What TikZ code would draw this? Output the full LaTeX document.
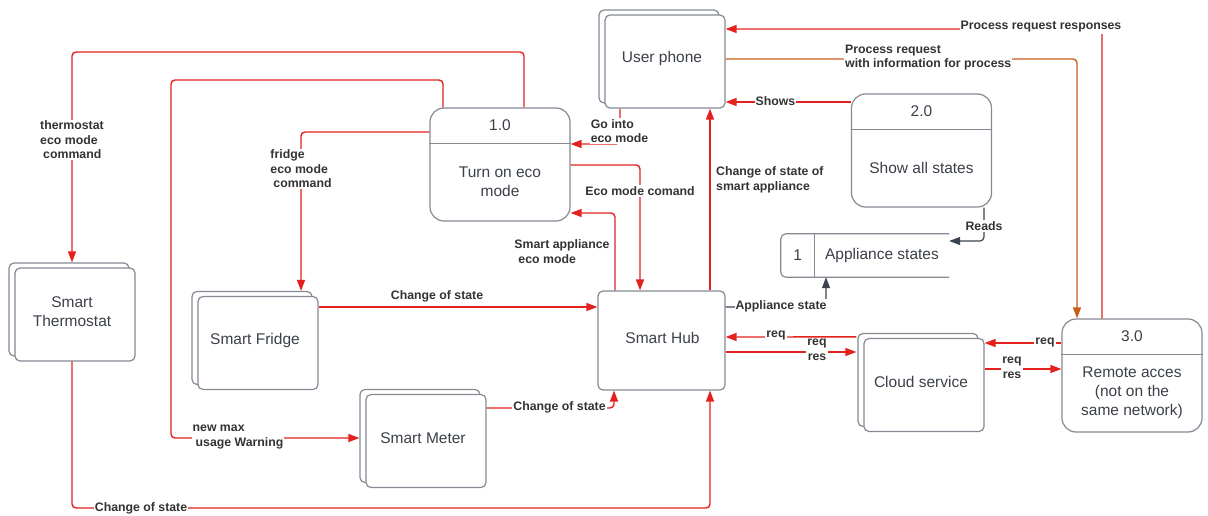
\documentclass[tikz,border=0pt]{standalone}
\usepackage{fontspec}
\setmainfont{Liberation Sans}
\usetikzlibrary{arrows.meta}

\definecolor{boxline}{HTML}{858A93}
\definecolor{nodetext}{HTML}{3B4049}
\definecolor{lbltext}{HTML}{333333}
\definecolor{flowred}{HTML}{E3211F}
\definecolor{floworange}{HTML}{C95F1A}
\definecolor{flowdark}{HTML}{3C4350}

\newcommand\nodefont{\fontsize{15.5}{19}\selectfont}
\newcommand\lblfont{\fontsize{12.3}{14.6}\selectfont\bfseries}

\tikzset{
  box/.style={draw=boxline, line width=1.2pt, fill=white, rounded corners=5pt,
    minimum width=120pt, minimum height=93pt, inner sep=0pt},
  proc/.style={draw=boxline, line width=1.2pt, fill=white, rounded corners=14pt,
    minimum width=140pt, minimum height=113pt, inner sep=0pt},
  divider/.style={draw=boxline, line width=1.2pt},
  ntext/.style={text=nodetext, font=\nodefont, align=center, inner sep=0pt},
  flow/.style={draw=flowred, line width=1.4pt, rounded corners=4pt,
    -{Triangle[length=11pt,width=8pt]}},
  oflow/.style={flow, draw=floworange},
  dflow/.style={flow, draw=flowdark, line width=1.2pt},
  lbl/.style={text=lbltext, font=\lblfont, fill=white, inner sep=1pt, align=left},
}

% external entity drawn as two stacked cards
\newcommand\stackbox[4]{%
  \node[box, xshift=-6pt, yshift=5pt] at (#2,#3) {};
  \node[box] (#1) at (#2,#3) {};
  \node[ntext, xshift=-3pt, yshift=3pt] at (#1.center) {#4};
}

% process: rounded box with an id strip on top
\newcommand\procbox[5]{%
  \node[proc] (#1) at (#2,#3) {};
  \draw[divider] ([yshift=-36pt]#1.north west) -- ([yshift=-36pt]#1.north east);
  \node[ntext] at ([yshift=-18pt]#1.north) {#4};
  \node[ntext] at ([yshift=-17pt]#1.center) {#5};
}

\begin{document}
\begin{tikzpicture}[x=1pt, y=-1pt]
\fill[white] (0,0) rectangle (1208,516);
\useasboundingbox (0,0) rectangle (1208,516);

% ---------- entities ----------
\stackbox{ph}{665}{61.5}{User phone}
\stackbox{th}{75}{314.5}{Smart\\Thermostat}
\stackbox{fr}{258}{343}{Smart Fridge}
\stackbox{me}{426}{441}{Smart Meter}
\stackbox{cl}{924}{385}{Cloud service}

\node[box, minimum width=127pt, minimum height=99pt] (hub) at (661.5,340.5) {};
\node[ntext, xshift=1pt, yshift=2.5pt] at (hub.center) {Smart Hub};

% ---------- processes ----------
\procbox{p1}{500}{164.5}{1.0}{Turn on eco\\mode}
\procbox{p2}{921.5}{150.5}{2.0}{Show all states}
\procbox{p3}{1132}{375.5}{3.0}{Remote acces\\(not on the\\same network)}

% ---------- data store ----------
\node[minimum width=168pt, minimum height=43pt, inner sep=0pt] (ds) at (865,255.5) {};
\draw[divider, rounded corners=5pt] (ds.north east) -- (ds.north west) -- (ds.south west) -- (ds.south east);
\draw[divider] ([xshift=34pt]ds.north west) -- ([xshift=34pt]ds.south west);
\node[ntext] at ([xshift=17pt]ds.west) {1};
\node[ntext] at ([xshift=17pt]ds.center) {Appliance states};

% ---------- data flows ----------
% eco mode commands from process 1.0
\draw[flow] ([xshift=24pt]p1.north) |- (72,52) -- ([xshift=-3pt,yshift=5pt]th.north);
\node[lbl] at (72,140) {thermostat\\eco mode\\\hspace{3pt}command};

\draw[flow] ([xshift=-57pt]p1.north) |- (171,80) |- ([xshift=-6pt,yshift=3pt]me.west);
\node[lbl] at (238,437) {new max\\\hspace{3pt}usage Warning};

\draw[flow] ([yshift=32.5pt]p1.west) -| ([xshift=43pt,yshift=5pt]fr.north);
\node[lbl] at (301,169) {fridge\\eco mode\\\hspace{3pt}command};

\draw[flow] ([xshift=-45pt]ph.south) |- ([yshift=20.5pt]p1.east);
\node[lbl] at (619.5,131) {Go into\\eco mode};

\draw[flow] ([yshift=-0.5pt]p1.east) -| ([xshift=-21.5pt]hub.north);
\node[lbl] at (640,191) {Eco mode comand};

\draw[flow] ([xshift=-46.5pt]hub.north) |- ([yshift=-48.5pt]p1.east);
\node[lbl] at (562,251.5) {Smart appliance\\\hspace{4pt}eco mode};

% state reports towards the phone
\draw[flow] ([xshift=48.5pt]hub.north) -- ([xshift=45pt]ph.south);
\node[lbl, anchor=west] at (715,180) {Change of state of\\smart appliance};

\draw[flow] ([yshift=48.5pt]p2.west) -- ([yshift=-40.5pt]ph.east);
\node[lbl] at (775.5,101) {Shows};

\draw[flow] ([xshift=-30pt]p3.north) |- ([yshift=32.5pt]ph.east);
\node[lbl] at (1041,27) {Process request responses};

\draw[oflow] ([yshift=2.5pt]ph.east) -| ([xshift=-55pt]p3.north);
\node[lbl, anchor=west] at (844,57.5) {Process request\\with information for process};

% data store access
\draw[dflow] ([xshift=62.5pt]p2.south) |- ([yshift=14.5pt]ds.east);
\node[lbl] at (984,226) {Reads};

\draw[dflow] ([yshift=33.5pt]hub.east) -| ([xshift=-39pt]ds.south);
\node[lbl] at (781,306) {Appliance state};

% hub / cloud / remote access traffic
\draw[flow] ([xshift=-7pt,yshift=1pt]cl.north west) -- ([yshift=3.5pt]hub.east);
\node[lbl] at (776,335) {req};

\draw[flow] ([yshift=-11.5pt]hub.east) -- ([xshift=-7pt,yshift=33pt]cl.west);
\node[lbl, align=center] at (817,350) {req\\res};

\draw[flow] ([yshift=32.5pt]p3.west) -- ([yshift=42pt]cl.east);
\node[lbl] at (1045,342) {req};

\draw[flow] ([yshift=16pt]cl.east) -- ([yshift=6.5pt]p3.west);
\node[lbl, align=center] at (1012,368) {req\\res};

% device state changes into the hub
\draw[flow] ([yshift=36pt]fr.east) -- ([yshift=33.5pt]hub.west);
\node[lbl] at (437,296) {Change of state};

\draw[flow] ([yshift=33pt]me.east) -| ([xshift=-47.5pt]hub.south);
\node[lbl] at (559.5,407) {Change of state};

\draw[flow] ([xshift=-3pt]th.south) -- (72,508) -| ([xshift=48.5pt]hub.south);
\node[lbl] at (141,508) {Change of state};
\end{tikzpicture}
\end{document}
